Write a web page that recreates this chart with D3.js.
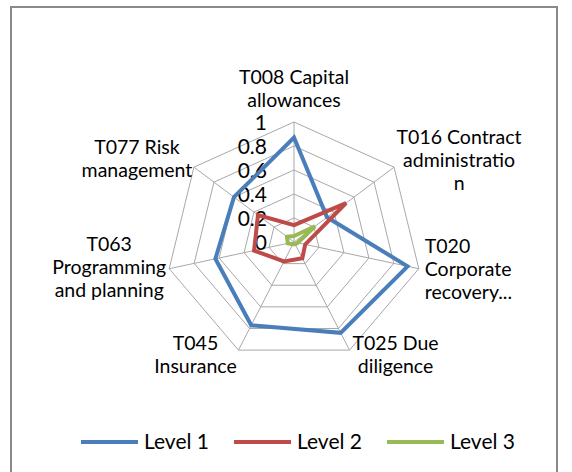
<!DOCTYPE html>
<html>
<head>
<meta charset="utf-8">
<script src="https://cdn.jsdelivr.net/npm/d3@7"></script>
<style>
  body { margin: 0; background: #fff; }
  svg text { font-family: Lato, "Open Sans", sans-serif; fill: #000; }
</style>
</head>
<body>
<div id="graphic"></div>
<script>
const categories = ["T008 Capital allowances", "T016 Contract administration", "T020 Corporate recovery...",
    "T025 Due diligence", "T045 Insurance", "T063 Programming and planning", "T077 Risk management"];
const labelLines = [["T008 Capital", "allowances"], ["T016 Contract", "administratio", "n"],
    ["T020", "Corporate", "recovery..."], ["T025 Due", "diligence"], ["T045", "Insurance"],
    ["T063", "Programming", "and planning"], ["T077 Risk", "management"]];
const seriesNames = ["Level 1", "Level 2", "Level 3"];
const level1 = [0.87, 0.33, 0.91, 0.84, 0.77, 0.63, 0.60];
const level2 = [0.14, 0.52, 0.09, 0.15, 0.18, 0.32, 0.36];
const level3 = [0.05, 0.21, 0.03, 0.02, 0.02, 0.05, 0.07];
const tickValues = [0, 0.2, 0.4, 0.6, 0.8, 1];
const tickLabels = ["0", "0.2", "0.4", "0.6", "0.8", "1"];

const colors = ["#4a7ebb", "#be4b48", "#98b954"];

// label placement relative to axis tip: anchor, dx, dy of first baseline
const labelLayout = [
    { anchor: "middle", dx: 0, dy: -38 },
    { anchor: "middle", dx: 65, dy: -23 },
    { anchor: "start", dx: 6, dy: -16 },
    { anchor: "middle", dx: 46, dy: 0 },
    { anchor: "middle", dx: -43, dy: 0 },
    { anchor: "middle", dx: -60, dy: -18 },
    { anchor: "middle", dx: -57, dy: -13 }
];

const width = 572, height = 472;
const cx = 294, cy = 242;

const svg = d3.select("#graphic")
    .append("svg")
    .attr("width", width)
    .attr("height", height);

// chart border
svg.append("rect")
    .attr("x", 11).attr("y", 7)
    .attr("width", 546).attr("height", 480)
    .attr("fill", "none")
    .attr("stroke", "#898989")
    .attr("stroke-width", 2);

const g = svg.append("g").attr("transform", `translate(${cx},${cy})`);

// picture is a little wider than tall, so two radial scales
const rx = d3.scaleLinear().domain([0, 1]).range([0, 128]);
const ry = d3.scaleLinear().domain([0, 1]).range([0, 120]);
const angle = d3.scaleLinear().domain([0, categories.length]).range([-Math.PI / 2, 1.5 * Math.PI]);

const px = (i, v) => rx(v) * Math.cos(angle(i));
const py = (i, v) => ry(v) * Math.sin(angle(i));

const idx = d3.range(categories.length);
const ring = d3.line().curve(d3.curveLinearClosed);

// grid rings
g.selectAll(".ring")
    .data(tickValues.slice(1))
    .join("path")
    .attr("class", "ring")
    .attr("d", v => ring(idx.map(i => [px(i, v), py(i, v)])))
    .attr("fill", "none")
    .attr("stroke", "#a8a8a8")
    .attr("stroke-width", 1);

// spokes
g.selectAll(".spoke")
    .data(idx)
    .join("line")
    .attr("class", "spoke")
    .attr("x1", 0).attr("y1", 0)
    .attr("x2", i => px(i, 1))
    .attr("y2", i => py(i, 1))
    .attr("stroke", "#a8a8a8")
    .attr("stroke-width", 1);

// tick labels along top axis
g.selectAll(".tick")
    .data(tickValues)
    .join("text")
    .attr("class", "tick")
    .attr("x", -27)
    .attr("y", v => -ry(v))
    .attr("dy", "0.36em")
    .attr("text-anchor", "end")
    .attr("font-size", "21px")
    .text((v, i) => tickLabels[i]);

// series
const allSeries = [level1, level2, level3];
g.selectAll(".series")
    .data(allSeries)
    .join("path")
    .attr("class", "series")
    .attr("d", vals => ring(vals.map((v, i) => [px(i, v), py(i, v)])))
    .attr("fill", "none")
    .attr("stroke", (d, k) => colors[k])
    .attr("stroke-width", 4)
    .attr("stroke-linejoin", "miter");

// category labels
const lbl = g.selectAll(".cat")
    .data(idx)
    .join("text")
    .attr("class", "cat")
    .attr("font-size", "19.5px")
    .attr("text-anchor", i => labelLayout[i].anchor);

lbl.selectAll("tspan")
    .data(i => labelLines[i].map((t, j) => ({ i, t, j })))
    .join("tspan")
    .attr("x", d => px(d.i, 1) + labelLayout[d.i].dx)
    .attr("y", d => py(d.i, 1) + labelLayout[d.i].dy + d.j * 23)
    .text(d => d.t);

// legend
const legend = svg.append("g")
    .selectAll("g")
    .data(seriesNames)
    .join("g")
    .attr("transform", (d, k) => `translate(${81 + k * 153},442)`);

legend.append("line")
    .attr("x1", 0).attr("x2", 57)
    .attr("stroke", (d, k) => colors[k])
    .attr("stroke-width", 4);

legend.append("text")
    .attr("x", 63)
    .attr("y", 7)
    .attr("font-size", "21px")
    .text(d => d);
</script>
</body>
</html>
